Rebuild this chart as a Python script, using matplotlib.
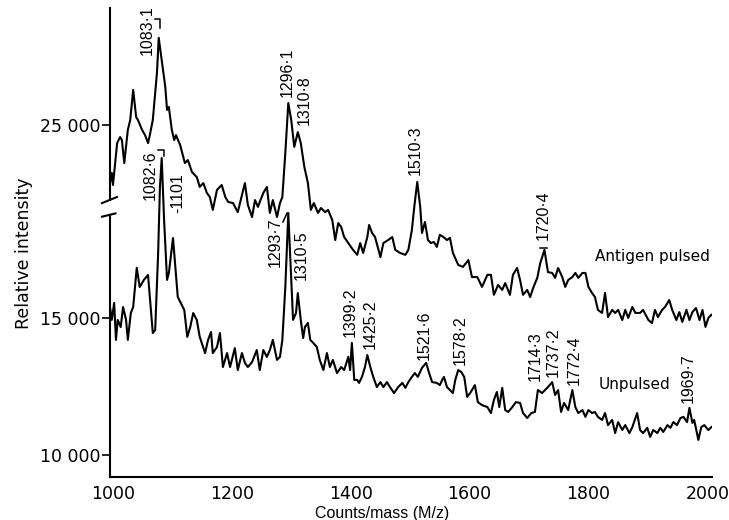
import matplotlib.pyplot as plt

# m/z and relative intensity
mz_pulsed = [995, 998, 1000, 1007, 1012, 1015, 1019, 1025, 1029, 1034, 1039, 1042, 1049, 1054, 1059, 1062, 1067,
             1074, 1077, 1082, 1088, 1091, 1094, 1099, 1103, 1106, 1113, 1121, 1126, 1133, 1141, 1146, 1152, 1158,
             1163, 1168, 1175, 1180, 1183, 1189, 1194, 1202, 1210, 1222, 1227, 1234, 1239, 1244, 1247, 1253, 1259,
             1264, 1269, 1276, 1281, 1285, 1290, 1295, 1300, 1305, 1311, 1316, 1322, 1328, 1333, 1338, 1345, 1350,
             1357, 1362, 1369, 1374, 1379, 1384, 1389, 1396, 1404, 1411, 1416, 1421, 1428, 1431, 1436, 1441, 1450,
             1455, 1463, 1470, 1475, 1483, 1492, 1497, 1503, 1507, 1512, 1517, 1520, 1525, 1530, 1535, 1540, 1545,
             1550, 1556, 1562, 1567, 1572, 1581, 1589, 1598, 1604, 1613, 1621, 1630, 1636, 1641, 1648, 1655, 1660,
             1668, 1673, 1680, 1685, 1690, 1697, 1702, 1707, 1714, 1719, 1726, 1732, 1739, 1744, 1749, 1756, 1761,
             1766, 1773, 1778, 1783, 1790, 1795, 1800, 1806, 1811, 1816, 1823, 1828, 1833, 1840, 1845, 1850, 1857,
             1862, 1867, 1874, 1879, 1887, 1892, 1901, 1907, 1912, 1917, 1924, 1929, 1936, 1941, 1948, 1953, 1958,
             1965, 1970, 1975, 1981, 1987, 1992, 1997, 2002, 2007]
int_pulsed = [22880, 23250, 22810, 24340, 24560, 24450, 23610, 24820, 25180, 26280, 25290, 25180, 24820, 24630,
              24340, 24630, 25180, 26900, 28180, 27370, 26390, 25550, 25660, 24820, 24450, 24630, 24270, 23610,
              23720, 23280, 23100, 22740, 22880, 22520, 22370, 21900, 22630, 22740, 22810, 22370, 22190, 22150,
              21820, 22880, 22080, 21640, 22260, 22010, 22190, 22520, 22740, 21790, 22260, 21640, 22150, 22370,
              23980, 25800, 25180, 24200, 24740, 24340, 23470, 22880, 21900, 22150, 21790, 21970, 21820, 21900,
              21530, 20800, 21420, 21280, 20910, 20690, 20440, 20260, 20690, 20330, 20910, 21350, 21060, 20910,
              20180, 20690, 20800, 20910, 20440, 20330, 20260, 20440, 21170, 22010, 22920, 22010, 21060, 21460,
              20800, 20690, 20730, 20550, 20990, 20910, 20800, 20880, 20330, 19890, 19820, 20070, 19450, 19450,
              19090, 19530, 19530, 18800, 19160, 18980, 19230, 18800, 19530, 19780, 19340, 18800, 18980, 18720,
              19050, 19420, 19960, 20440, 19630, 19600, 19420, 19780, 19450, 19090, 19340, 19450, 19600, 19420,
              19600, 19600, 19090, 18870, 18720, 18250, 18140, 18870, 17990, 18250, 18140, 18250, 17880, 18250,
              17960, 18360, 18140, 18140, 18250, 17880, 17770, 18250, 17990, 18250, 18360, 18610, 18250, 17880,
              18170, 17810, 18250, 17880, 18170, 18320, 17880, 18250, 17630, 17960, 18070]

mz_unpulsed = [995, 998, 1002, 1005, 1008, 1013, 1017, 1022, 1025, 1030, 1034, 1040, 1045, 1049, 1052, 1059, 1062,
               1067, 1071, 1076, 1079, 1082, 1086, 1091, 1094, 1101, 1104, 1109, 1114, 1120, 1125, 1130, 1135, 1141,
               1146, 1155, 1160, 1165, 1168, 1175, 1180, 1185, 1192, 1197, 1205, 1210, 1217, 1222, 1227, 1234, 1242,
               1247, 1253, 1259, 1264, 1269, 1276, 1281, 1285, 1290, 1295, 1300, 1303, 1308, 1311, 1316, 1320, 1323,
               1328, 1332, 1337, 1343, 1348, 1354, 1360, 1365, 1370, 1377, 1384, 1389, 1396, 1399, 1402, 1406, 1411,
               1414, 1419, 1424, 1428, 1433, 1438, 1444, 1450, 1455, 1461, 1466, 1473, 1480, 1487, 1492, 1497, 1503,
               1508, 1513, 1520, 1527, 1532, 1537, 1545, 1550, 1554, 1557, 1562, 1567, 1572, 1576, 1581, 1586, 1591,
               1596, 1601, 1609, 1614, 1621, 1630, 1636, 1641, 1646, 1650, 1655, 1660, 1665, 1672, 1678, 1685, 1690,
               1697, 1704, 1710, 1715, 1722, 1727, 1732, 1739, 1744, 1749, 1754, 1759, 1766, 1773, 1778, 1783, 1790,
               1795, 1800, 1806, 1811, 1816, 1823, 1828, 1833, 1840, 1845, 1850, 1857, 1862, 1869, 1874, 1882, 1887,
               1892, 1899, 1904, 1909, 1916, 1921, 1926, 1933, 1938, 1943, 1949, 1955, 1960, 1966, 1970, 1975, 1978,
               1985, 1990, 1995, 2002, 2007]
int_unpulsed = [15400, 14930, 15550, 14200, 14930, 14670, 15400, 14930, 14200, 15180, 15400, 16830, 16130, 16280,
                16390, 16570, 15770, 14450, 14560, 17370, 19780, 20840, 18580, 16390, 16640, 17920, 17120, 15770,
                15550, 15290, 14310, 14670, 15180, 14930, 14310, 13720, 14200, 14490, 13720, 13940, 14450, 13210,
                13720, 13210, 13900, 13100, 13720, 13360, 13210, 13390, 13830, 13100, 13830, 13580, 13830, 14200,
                13470, 13580, 14200, 16130, 18830, 16390, 14930, 15180, 15910, 14930, 14270, 14670, 14820, 14200,
                14090, 13940, 13470, 13100, 13720, 13210, 13470, 12990, 13210, 13100, 13580, 13100, 14090, 12740,
                12740, 12630, 12850, 13210, 13650, 13210, 12850, 12480, 12660, 12480, 12660, 12480, 12260, 12480,
                12630, 12450, 12660, 12850, 12990, 12850, 13180, 13360, 12990, 12660, 12630, 12550, 12740, 12850,
                12480, 12370, 12260, 12740, 13100, 13030, 12850, 12120, 12260, 12550, 11930, 11820, 11750, 11530,
                12010, 12300, 11750, 12450, 11640, 11570, 11750, 11930, 11900, 11530, 11350, 11530, 11570, 12370,
                12260, 12370, 12480, 12660, 12190, 12370, 11570, 11900, 11640, 12370, 11750, 11530, 11640, 11390,
                11640, 11530, 11570, 11390, 11280, 11530, 11090, 11280, 10800, 11200, 10910, 11090, 10800, 11020,
                11530, 10910, 10800, 10990, 10660, 10910, 10800, 10990, 10840, 11090, 10990, 11200, 11090, 11350,
                11390, 11200, 11720, 11170, 11280, 10550, 11020, 11090, 10910, 11020]

y_ticks = [10000, 15000, 25000]
y_tick_labels = ['10 000', '15 000', '25 000']
x_ticks = [1000, 1200, 1400, 1600, 1800, 2000]

# peak labels: (text, m/z anchor, intensity anchor, vertical alignment)
pulsed_labels = [('1083·1', 1057, 27555, 'bottom'), ('1296·1', 1293, 26022, 'bottom'),
                 ('1310·8', 1322, 25000, 'bottom'), ('1510·3', 1508, 23175, 'bottom'),
                 ('1720·4', 1724, 20800, 'bottom')]
unpulsed_labels = [('1082·6', 1062, 19307, 'bottom'), ('-1101', 1109, 18850, 'bottom'),
                   ('1293·7', 1273, 18650, 'top'), ('1310·5', 1316, 16387, 'bottom'),
                   ('1399·2', 1399, 14306, 'bottom'), ('1425·2', 1433, 13868, 'bottom'),
                   ('1521·6', 1524, 13467, 'bottom'), ('1578·2', 1584, 13285, 'bottom'),
                   ('1714·3', 1710, 12700, 'bottom'), ('1737·2', 1741, 12846, 'bottom'),
                   ('1772·4', 1776, 12555, 'bottom'), ('1969·7', 1968, 11898, 'bottom')]

# small leader hooks between some labels and their peaks (plot coordinates)
leaders = [([1070, 1079, 1079], [25900, 25900, 25600]),
           ([1075, 1086, 1086], [21150, 21150, 20900]),
           ([1286, 1293], [18504, 18833]),
           ([1719, 1730], [17555, 17555])]

# the upper (antigen pulsed) trace sits above a break in the intensity axis
shift = 2955
label_font = 'Liberation Sans'

fig = plt.figure(figsize=(7.29, 5.20), dpi=100)
ax = fig.add_axes([0.1509, 0.0827, 0.8258, 0.9019])

ax.plot(mz_pulsed, [v - shift for v in int_pulsed], color='black', lw=1.5)
ax.plot(mz_unpulsed, int_unpulsed, color='black', lw=1.5)

ax.set_xlim(995, 2008)
ax.set_ylim(9196, 26315)

ax.set_xticks(x_ticks)
ax.set_xticklabels([str(t) for t in x_ticks], fontsize=12.5)
ax.set_yticks([t if t < 20000 else t - shift for t in y_ticks])
ax.set_yticklabels(y_tick_labels, fontsize=12.5)
ax.tick_params(axis='x', length=0, pad=6)
ax.tick_params(axis='y', length=6, width=1.2, pad=1)

for s in ['top', 'right', 'left']:
    ax.spines[s].set_visible(False)
ax.spines['bottom'].set_linewidth(1.5)

# broken left axis
kw = dict(transform=ax.transAxes, color='black', lw=1.5, clip_on=False)
ax.plot([0, 0], [1.0, 0.591], **kw)
ax.plot([-0.0133, 0.0116], [0.584, 0.597], **kw)
ax.plot([0, 0], [0.0, 0.559], **kw)
ax.plot([-0.0133, 0.0090], [0.555, 0.562], **kw)

for text, x, y, va in pulsed_labels:
    ax.text(x, y - shift, text, rotation=90, ha='center', va=va, fontsize=11.5, family=label_font)
for text, x, y, va in unpulsed_labels:
    ax.text(x, y, text, rotation=90, ha='center', va=va, fontsize=11.5, family=label_font)
for xs, ys in leaders:
    ax.plot(xs, ys, color='black', lw=1.1)

ax.text(1811, 17227, 'Antigen pulsed', ha='left', va='center', fontsize=11)
ax.text(1818, 12555, 'Unpulsed', ha='left', va='center', fontsize=11)

ax.set_ylabel('Relative intensity', fontsize=12.5)
ax.yaxis.set_label_coords(-0.128, 0.478)
ax.set_xlabel('Counts/mass (M/z)', fontsize=11.5, family=label_font)
ax.xaxis.set_label_coords(0.452, -0.062)

plt.savefig('out.png', dpi=100)
